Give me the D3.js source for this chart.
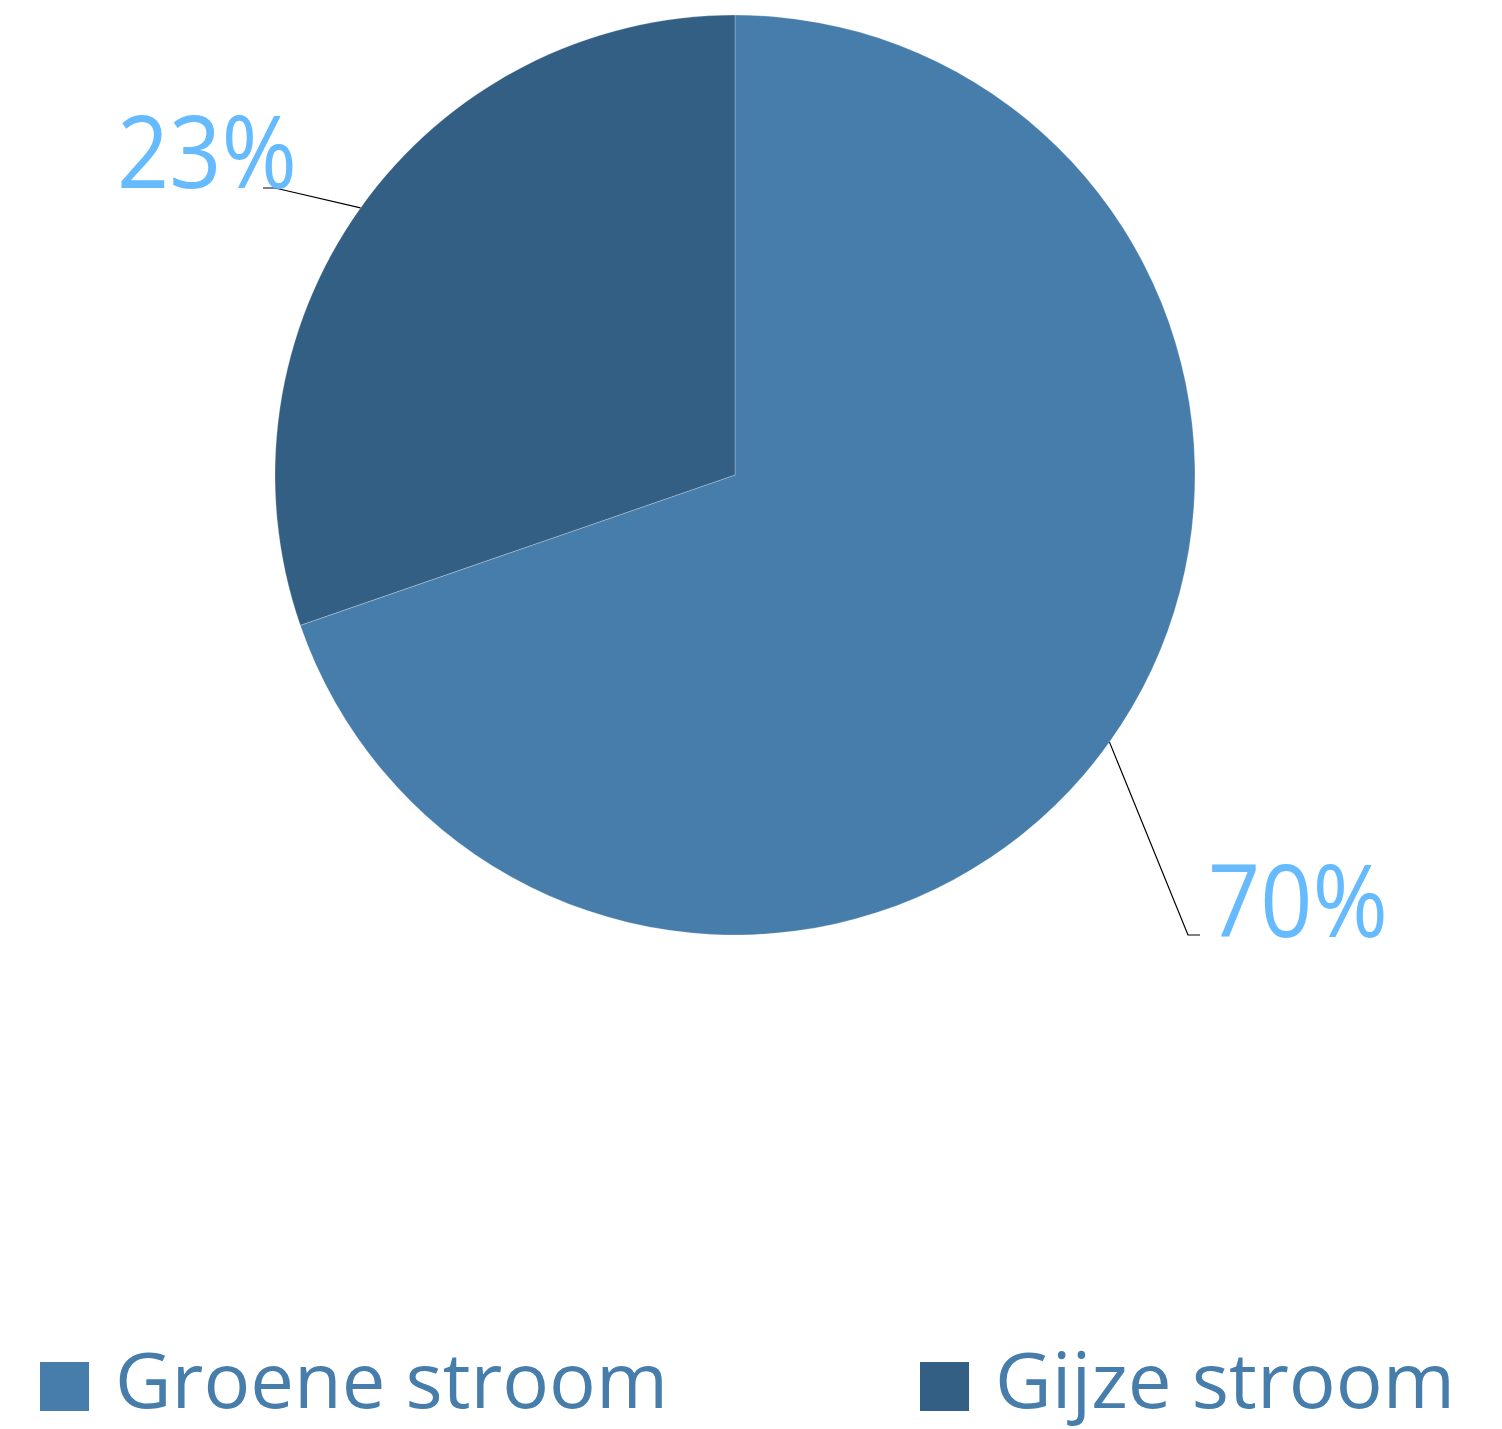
<!DOCTYPE html>
<html>
<head>
<meta charset="utf-8">
<script src="https://cdn.jsdelivr.net/npm/d3@7"></script>
<style>
  html, body { margin: 0; padding: 0; background: #fff; }
  text { font-family: "Open Sans", "Noto Sans", sans-serif; }
</style>
</head>
<body>
<div id="chart"></div>
<script>
// Series (slice sizes) and the label texts it shows
var categories = ['Groene stroom', 'Gijze stroom'];
var values = [69.7, 30.3];
var labels = ['70%', '23%'];

var colors = ['#467daa', '#335f84'];

var w = 1502, h = 1429,
  cx = 735, cy = 475, r = 460;

var svg = d3.select('#chart')
  .append('svg')
  .attr('width', w)
  .attr('height', h);

var pie = d3.pie().sort(null).value(function(d) { return d; });
var arcs = pie(values);

var arc = d3.arc().innerRadius(0).outerRadius(r);

var g = svg.append('g').attr('transform', 'translate(' + cx + ',' + cy + ')');

g.selectAll('path')
  .data(arcs)
  .enter()
  .append('path')
  .attr('d', arc)
  .style('fill', function(d, i) { return colors[i]; })
  .style('stroke', 'rgba(255,255,255,0.25)')
  .style('stroke-width', 1);

// Data labels with leader lines (anchor angle on the rim, elbow, end)
var labelLayout = [
  { angle: 125.5, elbow: [453, 460], end: [465, 460] },
  { angle: 305.5, elbow: [-460, -287], end: [-472, -287] }
];

function rim(deg) {
  var a = deg * Math.PI / 180;
  return [r * Math.sin(a), -r * Math.cos(a)];
}

labelLayout.forEach(function(l) {
  var p = rim(l.angle);
  g.append('path')
    .attr('d', d3.line()([p, l.elbow, l.end]))
    .style('fill', 'none')
    .style('stroke', '#000')
    .style('stroke-width', 1.2);
});

svg.selectAll('text.lbl')
  .data(labels)
  .enter()
  .append('text')
  .attr('class', 'lbl')
  .attr('x', function(d, i) { return i === 0 ? 1208 : 297; })
  .attr('y', function(d, i) { return i === 0 ? 937 : 188; })
  .attr('text-anchor', function(d, i) { return i === 0 ? 'start' : 'end'; })
  .attr('textLength', 180)
  .attr('lengthAdjust', 'spacingAndGlyphs')
  .style('font-size', '100px')
  .style('fill', '#66bbff')
  .text(function(d) { return d; });

// Legend
var legendX = [40, 920], legendTextW = [553, 460];
var legend = svg.selectAll('g.legend')
  .data(categories)
  .enter()
  .append('g')
  .attr('class', 'legend')
  .attr('transform', function(d, i) { return 'translate(' + legendX[i] + ',1362)'; });

legend.append('rect')
  .attr('width', 49)
  .attr('height', 49)
  .style('fill', function(d, i) { return colors[i]; });

legend.append('text')
  .attr('x', 75)
  .attr('y', 46)
  .attr('textLength', function(d, i) { return legendTextW[i]; })
  .attr('lengthAdjust', 'spacingAndGlyphs')
  .style('font-size', '76px')
  .style('fill', '#467daa')
  .text(function(d) { return d; });
</script>
</body>
</html>
